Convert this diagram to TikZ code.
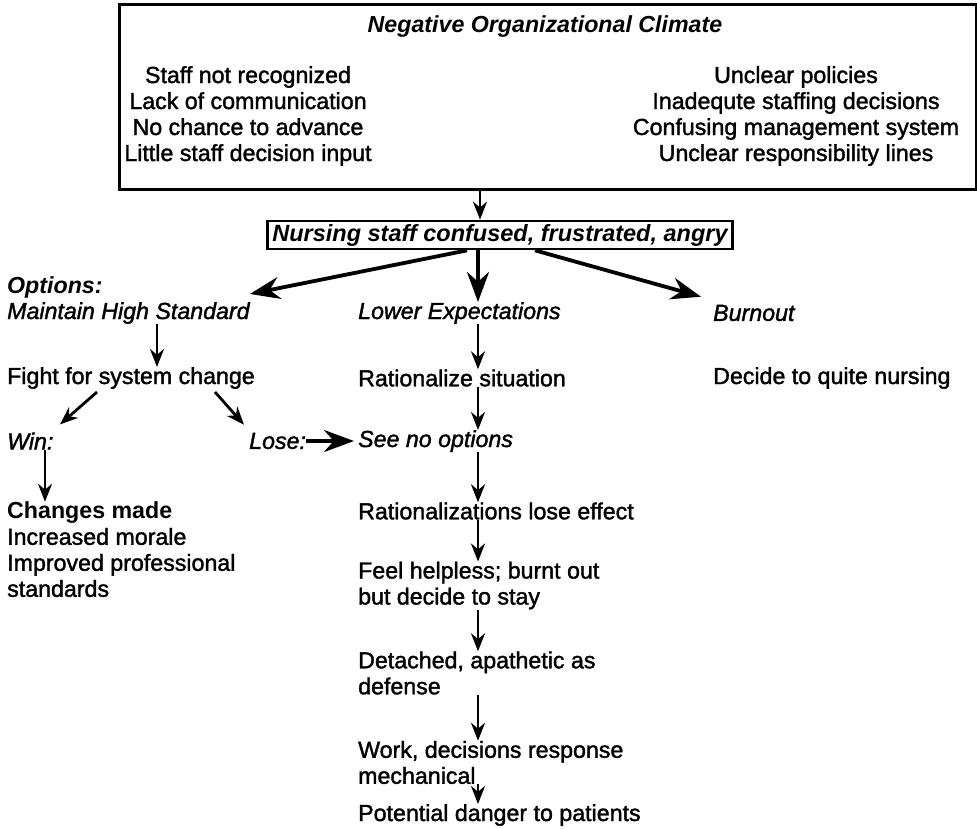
\documentclass[tikz,border=0pt]{standalone}
\usepackage{fontspec}
\setmainfont{Liberation Sans}[UprightFeatures={FakeBold=1.6},ItalicFeatures={FakeBold=1.6}]
\usetikzlibrary{arrows.meta}
\def\txtsize{\fontsize{23.2}{26}\selectfont}
\def\headsize{\fontsize{23.2}{26}\selectfont\bfseries\itshape}

\begin{document}
\begin{tikzpicture}[x=1pt,y=-1pt,
    txt/.style={anchor=west,inner sep=0pt,align=left,font=\txtsize},
    ctr/.style={inner sep=0pt,align=center,font=\txtsize},
    arr/.style={line width=2.8pt,-{Stealth[length=18pt,width=14pt]}},
    bigarr/.style={line width=3.8pt,-{Stealth[length=30pt,width=22pt]}},
    frame/.style={draw,line width=2.8pt}]
    \useasboundingbox (0,0) rectangle (977,828);
    % top box
    \node[frame,anchor=north west,minimum width=857pt,minimum height=185pt,inner sep=0pt] (climate) at (118,3) {};
    \node[ctr,font=\headsize] (title) at (545,26) {Negative Organizational Climate};
    \node[ctr] (causesA) at (248,116) {Staff not recognized\\Lack of communication\\No chance to advance\\Little staff decision input};
    \node[ctr] (causesB) at (796,116) {Unclear policies\\Inadequte staffing decisions\\Confusing management system\\Unclear responsibility lines};
    \node[frame,font=\fontsize{23.5}{26}\selectfont\bfseries\itshape,inner xsep=5pt,inner ysep=3pt] (feel) at (500,235) {Nursing staff confused, frustrated, angry};
    % columns
    \coordinate (toparr) at (480,0);
    \coordinate (midcol) at (478,0);
    \coordinate (leftcol) at (157,0);
    \coordinate (wincol) at (45,0);
    \node[txt,font=\headsize] (options) at (7,287) {Options:};
    \node[txt,font=\txtsize\itshape] (maintain) at (7,313) {Maintain High Standard};
    \node[txt,font=\txtsize\itshape] (lower) at (358,313) {Lower Expectations};
    \node[txt,font=\txtsize\itshape] (burnout) at (713,313) {Burnout};
    \node[txt] (fight) at (7,378) {Fight for system change};
    \node[txt] (ration) at (358,378) {Rationalize situation};
    \node[txt] (quit) at (713,378) {Decide to quite nursing};
    \node[txt,font=\txtsize\itshape] (win) at (7,441) {Win:};
    \node[txt,font=\txtsize\itshape] (lose) at (249,441) {Lose:};
    \node[txt,font=\txtsize\itshape] (noopt) at (358,441) {See no options};
    \node[txt] (changes) at (7,549.5) {\textbf{Changes made}\\Increased morale\\Improved professional\\standards};
    \node[txt] (ratlose) at (358,511) {Rationalizations lose effect};
    \node[txt] (helpless) at (358,585.5) {Feel helpless; burnt out\\but decide to stay};
    \node[txt] (detached) at (358,673) {Detached, apathetic as\\defense};
    \node[txt] (work) at (358,762.5) {Work, decisions response\\mechanical};
    \node[txt] (danger) at (358,815) {Potential danger to patients};
    % arrows
    \draw[arr] (climate.south -| toparr) -- (feel.north -| toparr);
    \draw[bigarr] ([xshift=-33pt]feel.south) -- ([xshift=0pt,yshift=8pt]maintain.north east);
    \draw[bigarr] (feel.south -| midcol) -- (lower.north -| midcol);
    \draw[bigarr] ([xshift=35pt]feel.south) -- ([xshift=-12pt,yshift=8pt]burnout.north west);
    \draw[arr] (maintain.south -| leftcol) -- (fight.north -| leftcol);
    \draw[arr] ([xshift=90pt,yshift=-3pt]fight.south west) -- ([xshift=53pt,yshift=8pt]win.north west);
    \draw[arr] ([xshift=208pt,yshift=-3pt]fight.south west) -- ([xshift=-5pt,yshift=8pt]lose.north west);
    \draw[bigarr,shorten >=4pt] (lose.east) -- (noopt.west);
    \draw[arr] (win.south -| wincol) -- (changes.north -| wincol);
    \draw[arr] (lower.south -| midcol) -- (ration.north -| midcol);
    \draw[arr] (ration.south -| midcol) -- (noopt.north -| midcol);
    \draw[arr] (noopt.south -| midcol) -- (ratlose.north -| midcol);
    \draw[arr] (ratlose.south -| midcol) -- (helpless.north -| midcol);
    \draw[arr] (helpless.south -| midcol) -- (detached.north -| midcol);
    \draw[arr] (detached.south -| midcol) -- (work.north -| midcol);
    \draw[arr] (work.south -| midcol) -- (danger.north -| midcol);
\end{tikzpicture}
\end{document}
